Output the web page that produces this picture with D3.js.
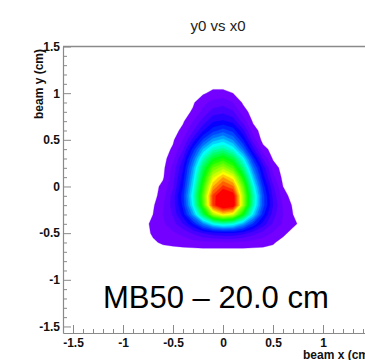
<!DOCTYPE html>
<html><head><meta charset="utf-8">
<script src="https://cdn.jsdelivr.net/npm/d3@7"></script>
<style>body{margin:0;background:#fff} svg{display:block;background:#fff}</style>
</head><body>
<svg id="c" width="365" height="360"></svg>
<script>
// ---- data ----
const xBins = [-0.9,-0.8,-0.7,-0.6,-0.5,-0.4,-0.3,-0.2,-0.1,0,0.1,0.2,0.3,0.4,0.5,0.6,0.7,0.8,0.9];
const yBins = [1.2,1.1,1.0,0.9,0.8,0.7,0.6,0.5,0.4,0.3,0.2,0.1,0,-0.1,-0.2,-0.3,-0.4,-0.5,-0.6,-0.7,-0.8];
const zRows = [
  [0,0,0,0,0,0,0,0,0,0,0,0,0,0,0,0,0,0,0],
  [0,0,0,0,0,0,0,0,0,0,0,0,0,0,0,0,0,0,0],
  [0,0,0,0,0,0,0,0.01,0.025,0.025,0.015,0,0,0,0,0,0,0,0],
  [0,0,0,0,0,0,0.01,0.04,0.06,0.07,0.05,0.01,0,0,0,0,0,0,0],
  [0,0,0,0,0,0,0.02,0.06,0.10,0.11,0.09,0.03,0,0,0,0,0,0,0],
  [0,0,0,0,0,0.01,0.05,0.10,0.15,0.16,0.14,0.07,0.01,0,0,0,0,0,0],
  [0,0,0,0,0,0.025,0.08,0.15,0.21,0.24,0.21,0.13,0.03,0,0,0,0,0,0],
  [0,0,0,0,0.01,0.05,0.13,0.23,0.31,0.34,0.29,0.19,0.07,0,0,0,0,0,0],
  [0,0,0,0,0.02,0.08,0.20,0.33,0.42,0.45,0.39,0.27,0.13,0.03,0,0,0,0,0],
  [0,0,0,0,0.04,0.12,0.26,0.42,0.54,0.58,0.52,0.38,0.21,0.08,0.01,0,0,0,0],
  [0,0,0,0.005,0.06,0.15,0.31,0.50,0.65,0.70,0.63,0.47,0.28,0.14,0.035,0,0,0,0],
  [0,0,0,0.01,0.07,0.17,0.34,0.55,0.74,0.82,0.76,0.57,0.34,0.17,0.06,0.005,0,0,0],
  [0,0,0,0.025,0.08,0.19,0.37,0.60,0.82,0.90,0.86,0.65,0.40,0.21,0.09,0.015,0,0,0],
  [0,0,0,0.035,0.10,0.21,0.40,0.64,0.90,0.99,0.96,0.70,0.44,0.24,0.11,0.03,0,0,0],
  [0,0,0.01,0.045,0.10,0.20,0.38,0.62,0.90,1.00,0.97,0.70,0.43,0.24,0.12,0.045,0.01,0,0],
  [0,0,0.015,0.05,0.09,0.17,0.31,0.50,0.70,0.78,0.74,0.56,0.36,0.20,0.10,0.05,0.015,0,0],
  [0,0,0.025,0.045,0.07,0.12,0.19,0.29,0.38,0.42,0.40,0.32,0.22,0.14,0.08,0.045,0.025,0,0],
  [0,0,0.02,0.035,0.045,0.06,0.09,0.12,0.14,0.15,0.15,0.13,0.10,0.07,0.045,0.025,0,0,0],
  [0,0,0.01,0.02,0.025,0.03,0.035,0.04,0.04,0.04,0.04,0.04,0.035,0.03,0.02,0,0,0,0],
  [0,0,0,0,0,0,0,0,0,0,0,0,0,0,0,0,0,0,0],
  [0,0,0,0,0,0,0,0,0,0,0,0,0,0,0,0,0,0,0]
];
const xTickValues = [-1.5,-1,-0.5,0,0.5,1,1.5];
const xTickLabels = ["-1.5","-1","-0.5","0","0.5","1","1.5"];
const yTickValues = [-1.5,-1,-0.5,0,0.5,1,1.5];
const yTickLabels = ["-1.5","-1","-0.5","0","0.5","1","1.5"];
const paletteStops  = [0,0.08,0.18,0.28,0.38,0.47,0.57,0.70,0.77,0.85,0.94];
const paletteColors = ["#8400ff","#5c00ff","#0000ff","#0070ff","#00ffff","#00ff80","#00ff00","#a0ff00","#ffff00","#ff8000","#ff0000"];
const titleText = "y0 vs x0";
const xTitle = "beam x (cm)";
const yTitle = "beam y (cm)";
const labelText = "MB50 \u2013 20.0 cm";

// ---- drawing ----
const svg = d3.select("#c");
const xScale = d3.scaleLinear().domain([-1.6, 1.5]).range([63, 373]);
const yScale = d3.scaleLinear().domain([-1.57, 1.5]).range([333, 46.5]);
const color = d3.scaleLinear().domain(paletteStops).range(paletteColors).clamp(true);

const nx = xBins.length, ny = yBins.length;
const gx = d3.scaleLinear().domain([0.5, nx - 0.5]).range([xBins[0], xBins[nx - 1]]);
const gy = d3.scaleLinear().domain([0.5, ny - 0.5]).range([yBins[0], yBins[ny - 1]]);
const values = zRows.flat();
const levels = d3.range(0.015, 1.0, 0.035);
const contours = d3.contours().size([nx, ny]).thresholds(levels)(values);
const proj = d3.geoTransform({
  point: function(x, y) { this.stream.point(xScale(gx(x)), yScale(gy(y))); }
});
const path = d3.geoPath(proj);
const bandColor = (d, i) => color(i + 1 < levels.length ? (levels[i] + levels[i + 1]) / 2 : levels[i]);
svg.append("g").selectAll("path").data(contours).join("path")
  .attr("d", path)
  .attr("fill", bandColor)
  .attr("stroke", bandColor)
  .attr("stroke-width", 0.3);

const axisColor = "#8a8a8a";
const fontAx = "'Liberation Sans', Arial, Helvetica, sans-serif";

// top frame
svg.append("line").attr("x1", xScale(-1.6)).attr("x2", xScale(1.5))
  .attr("y1", yScale(1.5)).attr("y2", yScale(1.5))
  .attr("stroke", axisColor).attr("stroke-width", 1.5);

const minorX = d3.range(-16, 16).map(d => d / 10).filter(v => Math.abs(v * 2 - Math.round(v * 2)) > 1e-6);
const minorY = d3.range(-15, 16).map(d => d / 10).filter(v => Math.abs(v * 2 - Math.round(v * 2)) > 1e-6);

function styleAxis(g) {
  g.select(".domain").attr("stroke", axisColor).attr("stroke-width", 1.2);
  g.selectAll(".tick line").attr("stroke", axisColor);
  g.selectAll("text").attr("font-family", fontAx).attr("font-weight", "bold")
    .attr("font-size", 12).attr("fill", "#111");
}

// y axis
svg.append("g").attr("transform", `translate(${xScale(-1.6)},0)`)
  .call(d3.axisLeft(yScale).tickValues(minorY).tickSize(-4).tickFormat(""))
  .call(g => g.select(".domain").remove())
  .selectAll(".tick line").attr("stroke", axisColor);
const gyMajor = svg.append("g").attr("transform", `translate(${xScale(-1.6)},0)`)
  .call(d3.axisLeft(yScale).tickValues(yTickValues).tickSizeInner(-8).tickSizeOuter(0).tickPadding(3)
    .tickFormat((d, i) => yTickLabels[i]));
styleAxis(gyMajor);

// x axis
svg.append("g").attr("transform", `translate(0,${yScale(-1.57)})`)
  .call(d3.axisBottom(xScale).tickValues(minorX).tickSize(-4).tickFormat(""))
  .call(g => g.select(".domain").remove())
  .selectAll(".tick line").attr("stroke", axisColor);
const gxMajor = svg.append("g").attr("transform", `translate(0,${yScale(-1.57)})`)
  .call(d3.axisBottom(xScale).tickValues(xTickValues).tickSizeInner(-8).tickSizeOuter(0).tickPadding(5)
    .tickFormat((d, i) => xTickLabels[i]));
styleAxis(gxMajor);

// titles
svg.append("text").attr("x", 218).attr("y", 31).attr("text-anchor", "middle")
  .attr("font-family", fontAx).attr("font-size", 15).attr("fill", "#222").text(titleText);
svg.append("text").attr("transform", "translate(42.5,49) rotate(-90)").attr("text-anchor", "end")
  .attr("font-family", fontAx).attr("font-weight", "bold").attr("font-size", 12).attr("fill", "#111").text(yTitle);
svg.append("text").attr("x", 373).attr("y", 359).attr("text-anchor", "end")
  .attr("font-family", fontAx).attr("font-weight", "bold").attr("font-size", 12).attr("fill", "#111").text(xTitle);
svg.append("text").attr("x", 103).attr("y", 308)
  .attr("font-family", fontAx).attr("font-size", 31).attr("fill", "#000").text(labelText);
</script>
</body></html>
